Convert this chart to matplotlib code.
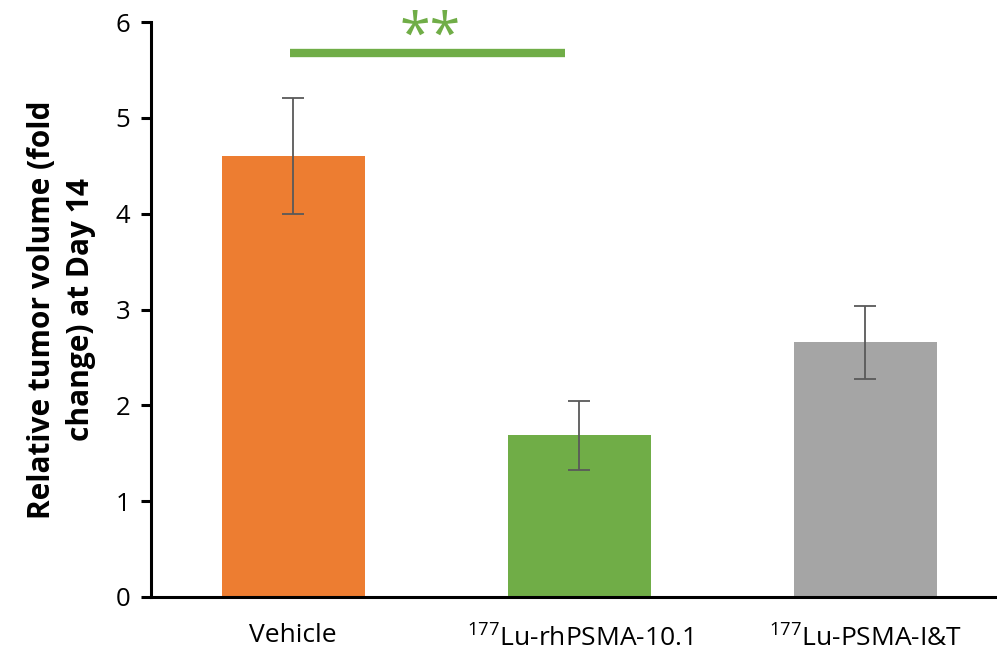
import matplotlib
matplotlib.use("Agg")
import matplotlib.pyplot as plt

plt.rcParams['font.family'] = ['Open Sans', 'DejaVu Sans']
plt.rcParams['mathtext.fontset'] = 'custom'
plt.rcParams['mathtext.rm'] = 'Open Sans'

# datos
grupos = ['Vehicle', '$^{177}$Lu-rhPSMA-10.1', '$^{177}$Lu-PSMA-I&T']
medias = [4.60, 1.69, 2.66]
err_sup = [0.61, 0.36, 0.38]
err_inf = [0.60, 0.36, 0.39]
colores = ['#ED7D31', '#70AD47', '#A5A5A5']
sig_nivel = 5.68
sig_texto = '**'

fig = plt.figure(figsize=(9.97, 6.51), dpi=100)
ax = fig.add_axes([0.1515, 0.083, 0.8485, 0.883])

x = list(range(len(grupos)))
ax.bar(x, medias, width=0.5, color=colores, zorder=2)
ax.errorbar(x, medias, yerr=[err_inf, err_sup], fmt='none', ecolor='#595959',
            elinewidth=1.3, capsize=8, capthick=1.3, zorder=3)

# linea de significancia
ax.plot([-0.01, 0.95], [sig_nivel, sig_nivel], color='#70AD47', lw=6, solid_capstyle='butt', zorder=3)
ax.text(0.48, sig_nivel - 0.15, sig_texto, color='#70AD47', fontsize=40,
        ha='center', va='bottom')

ax.set_xlim(-0.497, 2.46)
ax.set_ylim(0, 6)
ax.set_yticks(range(0, 7))
ax.set_xticks(x)
ax.set_xticklabels(grupos, fontsize=19)
ax.tick_params(axis='y', labelsize=18.5, width=2.2, length=7, direction='out', pad=8)
ax.tick_params(axis='x', length=0, pad=19)
for s in ['top', 'right']:
    ax.spines[s].set_visible(False)
for s in ['left', 'bottom']:
    ax.spines[s].set_linewidth(2.2)

ax.set_ylabel('Relative tumor volume (fold\nchange) at Day 14', fontsize=21.5,
              fontweight='bold', labelpad=14, linespacing=1.4)

fig.savefig('out.png', dpi=100)
